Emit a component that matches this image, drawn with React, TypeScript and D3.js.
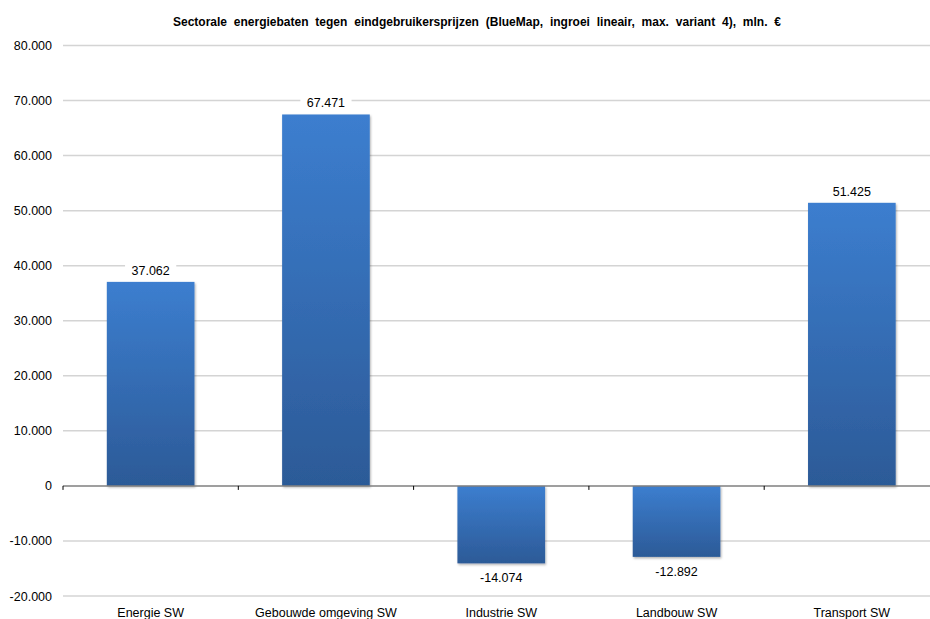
import React from "react";
import * as d3 from "d3";

const categories = ["Energie SW", "Gebouwde omgeving SW", "Industrie SW", "Landbouw SW", "Transport SW"];
const values = [37062, 67471, -14074, -12892, 51425];
const yTicks = [-20000, -10000, 0, 10000, 20000, 30000, 40000, 50000, 60000, 70000, 80000];
const title = "Sectorale energiebaten tegen eindgebruikersprijzen (BlueMap, ingroei lineair, max. variant 4), mln. €";

const W = 930;
const H = 619;
const left = 63;
const right = 939.5;
const top = 45.5;
const bottom = 596;

const fmt = (v: number) => {
  const s = d3.format(",")(Math.abs(v)).replace(/,/g, ".");
  return (v < 0 ? "-" : "") + s;
};

export default function App() {
  const x = d3.scaleBand<string>().domain(categories).range([left, right]).paddingInner(0.5).paddingOuter(0.25);
  const y = d3.scaleLinear().domain([-20000, 80000]).range([bottom, top]);
  const y0 = y(0);
  const band = (right - left) / categories.length;
  const font = "Arial, 'Liberation Sans', sans-serif";
  return (
    <svg width={W} height={H} style={{ position: "absolute", left: 0, top: 0, background: "#fff" }}>
      <defs>
        <linearGradient id="barG" x1="0" y1="0" x2="0" y2="1">
          <stop offset="0" stopColor="#3c7ecf" />
          <stop offset="1" stopColor="#2c5a97" />
        </linearGradient>
        <filter id="sh" x="-10%" y="-10%" width="130%" height="130%">
          <feDropShadow dx="1" dy="1.5" stdDeviation="1.2" floodColor="#000" floodOpacity="0.3" />
        </filter>
      </defs>
      <text x={477} y={26} textAnchor="middle" fontFamily="'Liberation Sans Narrow', Arial, sans-serif" fontWeight="bold" fontSize={12} wordSpacing={3.5} fill="#000">
        {title}
      </text>
      {yTicks.map((t) => (
        <g key={t}>
          {t !== 0 && <line x1={left} x2={W} y1={y(t)} y2={y(t)} stroke="#d4d4d4" strokeWidth={1.5} />}
          <text x={52} y={y(t) + 4.5} textAnchor="end" fontFamily={font} fontSize={12.5} fill="#000">
            {fmt(t)}
          </text>
        </g>
      ))}
      {categories.map((c, i) => {
        const v = values[i];
        const bx = x(c)!;
        const bw = x.bandwidth();
        const yt = Math.min(y(v), y0);
        const h = Math.abs(y(v) - y0);
        return (
          <g key={c}>
            <rect x={bx} y={yt} width={bw} height={h} fill="url(#barG)" filter="url(#sh)" />
          </g>
        );
      })}
      <line x1={left} x2={W} y1={y0} y2={y0} stroke="#7f7f7f" strokeWidth={1.5} />
      {d3.range(categories.length + 1).map((i) => (
        <line key={i} x1={left + i * band} x2={left + i * band} y1={y0} y2={y0 + 4} stroke="#000" strokeWidth={1} />
      ))}
      {categories.map((c, i) => {
        const v = values[i];
        const cx = x(c)! + x.bandwidth() / 2;
        const ly = v >= 0 ? y(v) - 7 : y(v) + 19;
        const label = fmt(v);
        return (
          <g key={c + "l"}>
            <rect x={cx - label.length * 3.6 - 4} y={ly - 12} width={label.length * 7.2 + 8} height={15} fill="#fff" />
            <text x={cx} y={ly} textAnchor="middle" fontFamily={font} fontSize={12.5} fill="#000">
              {label}
            </text>
            <text x={cx} y={617} textAnchor="middle" fontFamily={font} fontSize={12.5} fill="#000">
              {c}
            </text>
          </g>
        );
      })}
    </svg>
  );
}
